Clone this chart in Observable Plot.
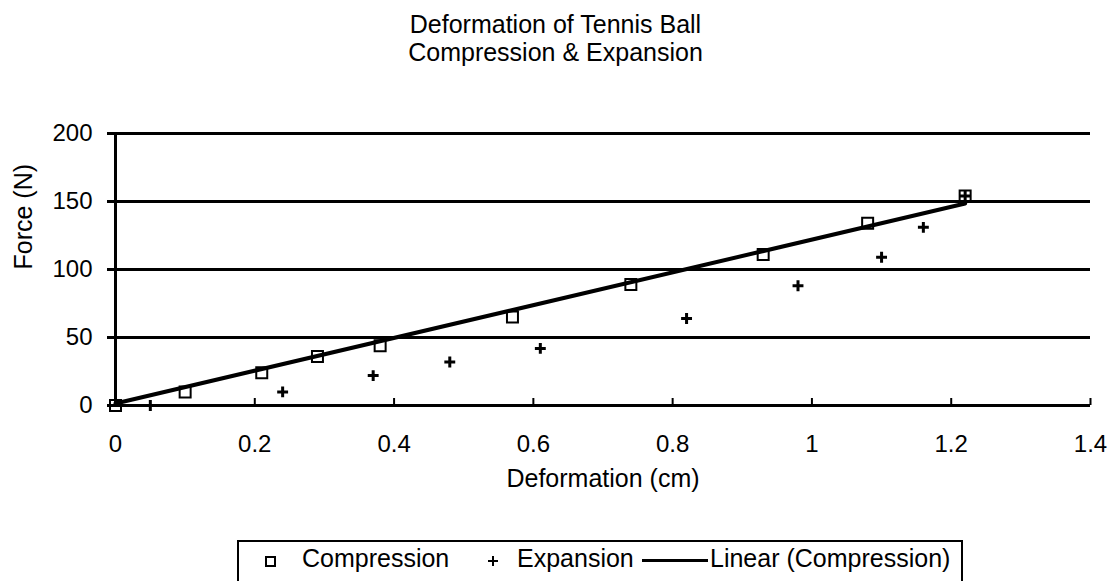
<!DOCTYPE html>
<html>
<head>
<meta charset="utf-8">
<script src="https://cdn.jsdelivr.net/npm/d3@7"></script>
<script src="https://cdn.jsdelivr.net/npm/@observablehq/plot@0.6"></script>
<style>
  html, body { margin: 0; padding: 0; background: white; }
  body { width: 1111px; height: 581px; overflow: hidden; position: relative; font-family: "Liberation Sans", Arial, sans-serif; color: black; }
  #title { position: absolute; left: 0; top: 10px; width: 1111px; text-align: center; font-size: 25px; line-height: 28px; }
  #chart { position: absolute; left: 0; top: 66px; }
  #legend { position: absolute; left: 237px; top: 540px; width: 722px; height: 60px; border: 2px solid black; box-sizing: content-box; }
  .lg { position: absolute; font-size: 25px; line-height: 25px; top: 546px; white-space: nowrap; }
</style>
</head>
<body>
<div id="title">Deformation of Tennis Ball<br>Compression &amp; Expansion</div>
<div id="chart"></div>
<div id="legend"></div>
<div style="position:absolute;left:265px;top:556px;width:7px;height:7px;border:2px solid black;"></div>
<span class="lg" style="left:302px;">Compression</span>
<div style="position:absolute;left:488px;top:560px;width:10px;height:2px;background:black;"></div>
<div style="position:absolute;left:492px;top:556px;width:2px;height:10px;background:black;"></div>
<span class="lg" style="left:517px;">Expansion</span>
<div style="position:absolute;left:642px;top:559px;width:66px;height:3px;background:black;"></div>
<span class="lg" style="left:710px;">Linear (Compression)</span>
<script>
// Data
const compX = [0, 0.10, 0.21, 0.29, 0.38, 0.57, 0.74, 0.93, 1.08, 1.22];
const compY = [0, 10, 24, 36, 44, 65, 89, 111, 134, 154];
const expX = [0.05, 0.24, 0.37, 0.48, 0.61, 0.82, 0.98, 1.10, 1.16, 1.22];
const expY = [0, 10, 22, 32, 42, 64, 88, 109, 131, 154];
const trendX = [0, 1.22];
const trendY = [1.5, 148.5];
const xTicks = [0, 0.2, 0.4, 0.6, 0.8, 1, 1.2, 1.4];
const yTicks = [0, 50, 100, 150, 200];

const compression = compX.map((x, i) => ({x, y: compY[i]}));
const expansion = expX.map((x, i) => ({x, y: expY[i]}));
const trend = trendX.map((x, i) => ({x, y: trendY[i]}));

const chart = Plot.plot({
  width: 1111,
  height: 474,
  marginLeft: 115,
  marginRight: 21,
  marginTop: 67,
  marginBottom: 135,
  style: {
    fontFamily: "Liberation Sans, Arial, sans-serif",
    fontSize: "24px",
    color: "black",
    background: "white",
    overflow: "visible"
  },
  x: {domain: [0, 1.4], ticks: xTicks, tickFormat: d => String(d), tickSize: 0, tickPadding: 29, label: null},
  y: {domain: [0, 200], ticks: yTicks, tickFormat: d => String(d), tickSize: 0, tickPadding: 23, label: null},
  marks: [
    Plot.ruleY(yTicks, {y: d => d, stroke: "black", strokeWidth: 3, insetLeft: -8}),
    Plot.ruleX([0], {x: d => d, stroke: "black", strokeWidth: 3}),
    Plot.ruleX(xTicks, {x: d => d, stroke: "black", strokeWidth: 2, insetTop: 265}),
    Plot.dot(compression, {x: "x", y: "y", symbol: "square", r: 6.2, stroke: "black", fill: "none", strokeWidth: 2}),
    Plot.dot(expansion, {x: "x", y: "y", symbol: "plus", r: 3.6, stroke: "black", strokeWidth: 3}),
    Plot.line(trend, {x: "x", y: "y", stroke: "black", strokeWidth: 4}),
    Plot.text(["Deformation (cm)"], {text: d => d, frameAnchor: "bottom", dy: 81, fontSize: 25, fill: "black"}),
    Plot.text(["Force (N)"], {text: d => d, frameAnchor: "left", dx: -92, rotate: -90, fontSize: 25, fill: "black"})
  ]
});
document.getElementById("chart").appendChild(chart);
</script>
</body>
</html>
